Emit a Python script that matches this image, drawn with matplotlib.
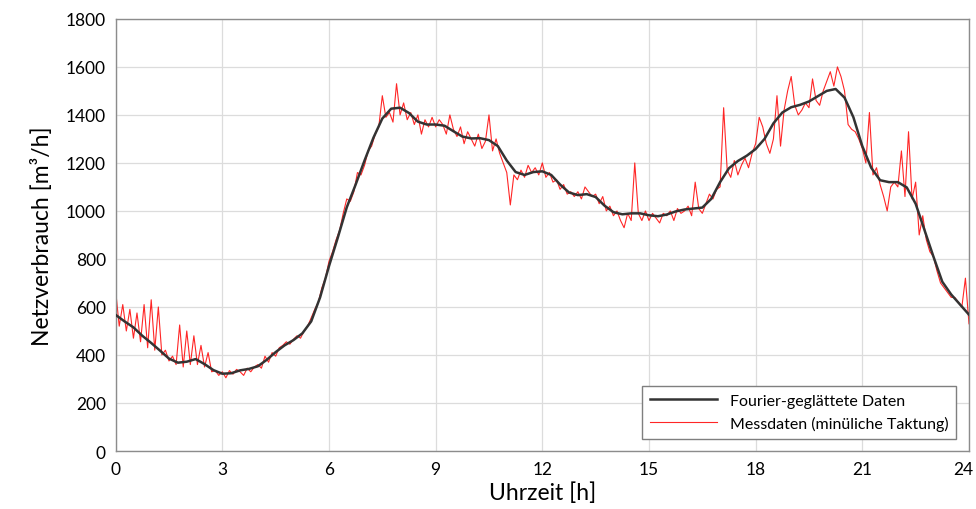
import numpy as np
import matplotlib.pyplot as plt
import matplotlib.transforms as mtransforms

plt.rcParams['font.family'] = ['Lato', 'DejaVu Sans']

# Fourier-geglaettete Daten, alle 15 min
hours_smooth = np.arange(0, 24.01, 0.25)
smooth = [567, 540, 515, 480, 450, 418, 385, 368, 372, 383, 362, 337,
          322, 324, 336, 342, 353, 380, 412, 440, 462, 490, 540, 640,
          770, 890, 1015, 1110, 1210, 1305, 1385, 1426, 1430, 1408, 1372, 1360,
          1360, 1355, 1332, 1310, 1302, 1303, 1295, 1270, 1210, 1162, 1150, 1162,
          1165, 1150, 1110, 1077, 1066, 1070, 1058, 1022, 995, 986, 990, 990,
          982, 978, 985, 998, 1006, 1010, 1014, 1050, 1120, 1178, 1208, 1230,
          1258, 1300, 1365, 1410, 1432, 1442, 1456, 1478, 1500, 1508, 1472, 1390,
          1270, 1180, 1128, 1120, 1120, 1098, 1030, 920, 810, 705, 652, 610, 568]

hours_raw = np.arange(0, 24.01, 0.1)
raw = [668, 520, 610, 500, 590, 470, 575, 455, 610, 430,
       630, 420, 600, 400, 420, 375, 395, 360, 525, 350,
       500, 360, 480, 360, 440, 350, 410, 330, 335, 315,
       330, 305, 335, 320, 340, 330, 315, 345, 330, 350,
       360, 345, 395, 370, 410, 395, 430, 440, 455, 445,
       465, 480, 470, 500, 520, 555, 590, 620, 680, 720,
       790, 830, 880, 920, 990, 1050, 1040, 1080, 1160, 1150,
       1190, 1250, 1270, 1320, 1350, 1480, 1390, 1410, 1370, 1530,
       1400, 1450, 1380, 1410, 1360, 1400, 1320, 1380, 1350, 1390,
       1350, 1380, 1360, 1320, 1400, 1340, 1310, 1350, 1280, 1330,
       1300, 1270, 1320, 1260, 1290, 1400, 1250, 1300, 1240, 1200,
       1160, 1025, 1150, 1130, 1170, 1140, 1190, 1160, 1180, 1150,
       1200, 1140, 1160, 1120, 1130, 1090, 1110, 1070, 1080, 1060,
       1080, 1050, 1100, 1080, 1060, 1070, 1030, 1060, 1000, 1020,
       980, 1000, 960, 930, 990, 960, 1200, 990, 960, 1000,
       960, 990, 970, 950, 990, 980, 1000, 960, 1010, 990,
       1000, 1020, 980, 1120, 1010, 990, 1030, 1070, 1050, 1090,
       1100, 1430, 1170, 1140, 1210, 1150, 1190, 1220, 1180, 1240,
       1280, 1390, 1350, 1280, 1240, 1300, 1480, 1270, 1420, 1500,
       1560, 1440, 1400, 1420, 1450, 1430, 1550, 1460, 1440, 1500,
       1540, 1580, 1520, 1600, 1560, 1500, 1360, 1340, 1330, 1300,
       1260, 1200, 1410, 1150, 1180, 1110, 1060, 1000, 1100, 1120,
       1100, 1250, 1060, 1330, 1050, 1120, 900, 980, 880, 830,
       810, 750, 700, 680, 660, 640, 640, 620, 600, 720,
       530]

x_ticks = [0, 3, 6, 9, 12, 15, 18, 21, 24]

fig = plt.figure(figsize=(9.76, 5.10), dpi=100)
ax = fig.add_axes([0.1185, 0.1137, 0.8743, 0.8473])

ax.plot(hours_raw, raw, color='#ff0000', lw=0.8, alpha=0.85,
        label='Messdaten (minüliche Taktung)', zorder=2)
ax.plot(hours_smooth, smooth, color='#333333', lw=1.8,
        label='Fourier-geglättete Daten', zorder=3)

ax.set_xlim(0, 24)
ax.set_ylim(0, 1800)
ax.set_xticks(x_ticks)
ax.set_yticks(range(0, 1801, 200))
ax.grid(True, color='#dcdcdc', lw=0.9)
ax.set_axisbelow(True)
ax.tick_params(length=0, labelsize=12.5, pad=7)
for s in ax.spines.values():
    s.set_color('#8c8c8c')
    s.set_linewidth(1.0)

# last x label pulled inside the figure like in the original
last = ax.get_xticklabels()[-1]
last.set_transform(last.get_transform() +
                   mtransforms.ScaledTranslation(-6 / 100, 0, fig.dpi_scale_trans))

ax.set_xlabel('Uhrzeit [h]', fontsize=16.5, labelpad=3)
ax.set_ylabel('Netzverbrauch [m³/h]', fontsize=16.5, labelpad=9)

handles, labels = ax.get_legend_handles_labels()
leg = ax.legend(handles[::-1], labels[::-1], loc='lower right',
                bbox_to_anchor=(0.985, 0.028), borderaxespad=0,
                fontsize=11.5, fancybox=False, edgecolor='#7f7f7f',
                framealpha=1, handlelength=4.2, borderpad=0.5)
leg.get_frame().set_linewidth(1.0)

fig.savefig('out.png', dpi=100)
